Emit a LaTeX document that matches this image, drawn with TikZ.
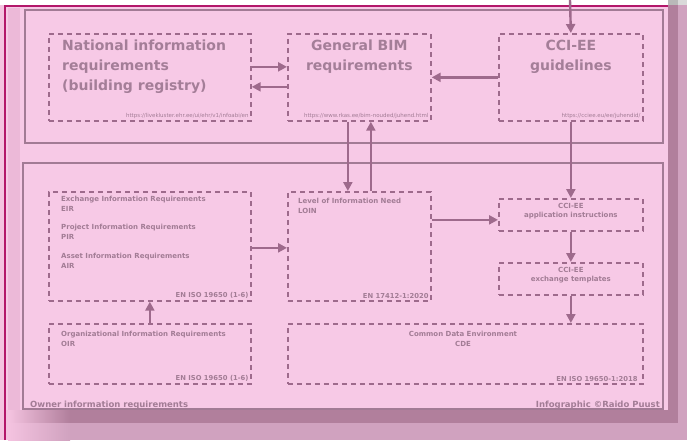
\documentclass[tikz,border=0pt]{standalone}
\usepackage{fontspec}
\setmainfont{DejaVu Sans}
\usetikzlibrary{arrows.meta}
\definecolor{bgpink}{HTML}{F7C9E6}
\definecolor{outpink}{HTML}{F4C3E0}
\definecolor{stripe}{HTML}{ECB9D8}
\definecolor{shadowA}{HTML}{B17F9C}
\definecolor{shadowB}{HTML}{D0A2BF}
\definecolor{frameM}{HTML}{B3176A}
\definecolor{linec}{HTML}{9E6A8C}
\definecolor{panelc}{HTML}{A27B95}
\definecolor{txtc}{HTML}{A47E98}
\definecolor{smallc}{HTML}{A27C95}
\tikzset{
  dbox/.style={draw=linec, line width=1.7pt, dash pattern=on 5pt off 4pt, rectangle, inner sep=0pt, anchor=north west},
  panel/.style={draw=panelc, line width=1.5pt},
  arr/.style={draw=linec, line width=2.4pt, -{Triangle[length=9pt,width=9pt]}},
  ttl/.style={text=txtc, font=\fontsize{14}{20}\selectfont\bfseries, inner sep=0pt},
  sml/.style={text=smallc, font=\fontsize{7}{9.5}\selectfont\bfseries, inner sep=0pt, align=left, anchor=north west},
  smc/.style={text=smallc, font=\fontsize{7}{9.5}\selectfont\bfseries, inner sep=0pt, align=center, anchor=north},
  url/.style={text=smallc, font=\fontsize{5.5}{6}\selectfont, inner sep=0pt, anchor=south east},
  std/.style={text=smallc, font=\fontsize{6.8}{8}\selectfont\bfseries, inner sep=0pt, anchor=south east},
  captxt/.style={text=smallc, font=\fontsize{8.5}{10}\selectfont\bfseries, inner sep=0pt}
}
\begin{document}
\begin{tikzpicture}[x=1pt,y=-1pt]
\useasboundingbox (0,0) rectangle (687,440);
% background and frame
\fill[outpink] (0,0) rectangle (687,440);
\fill[white] (0,0) rectangle (668,5);
\fill[shadowA] (668,5) rectangle (678,423);
\fill[shadowB] (678,5) rectangle (687,440);
\fill[gray!55] (668,0) rectangle (678,5);
\fill[gray!30] (678,0) rectangle (687,5);
\shade[left color=outpink, right color=shadowA] (8,410) rectangle (70,423);
\fill[shadowA] (70,410) rectangle (678,423);
\shade[left color=outpink, right color=shadowB] (8,423) rectangle (70,440);
\fill[shadowB] (70,423) rectangle (687,440);
\fill[bgpink] (6,6) rectangle (668,410);
\fill[stripe] (8,8) rectangle (20,410);
\draw[frameM, line width=2pt] (5,440) -- (5,6) -- (668,6);
% panels
\draw[panel] (25,10) rectangle (663,143);
\draw[panel] (23,163) rectangle (663,409);
% top boxes
\node[dbox, minimum width=202pt, minimum height=87pt] (nat) at (48,33) {};
\node[dbox, minimum width=143pt, minimum height=87pt] (gen) at (287,33) {};
\node[dbox, minimum width=144pt, minimum height=87pt] (cci) at (498,33) {};
\node[ttl, anchor=north west, align=left] (natt) at (62,40) {National information\\requirements\\(building registry)};
\node[ttl, anchor=north, align=center] (gent) at (gen.north |- 0,40) {General BIM\\requirements};
\node[ttl, anchor=north, align=center] (ccit) at (cci.north |- 0,40) {CCI-EE\\guidelines};
\node[url] (natu) at ([xshift=-3pt,yshift=3pt]nat.south east) {https://livekluster.ehr.ee/ui/ehr/v1/infoabi/en};
\node[url] (genu) at ([xshift=-3pt,yshift=3pt]gen.south east) {https://www.rkas.ee/bim-nouded/juhend.html};
\node[url] (cciu) at ([xshift=-3pt,yshift=3pt]cci.south east) {https://cciee.eu/ee/juhendid/};
% bottom boxes
\node[dbox, minimum width=202pt, minimum height=109pt] (eir) at (48,191) {};
\node[dbox, minimum width=202pt, minimum height=60pt] (oir) at (48,323) {};
\node[dbox, minimum width=143pt, minimum height=109pt] (loin) at (287,191) {};
\node[dbox, minimum width=144pt, minimum height=32pt] (app) at (498,198) {};
\node[dbox, minimum width=144pt, minimum height=32pt] (exch) at (498,262) {};
\node[dbox, minimum width=355pt, minimum height=60pt] (cde) at (287,323) {};
\node[sml] (eirt) at (61,196) {Exchange Information Requirements\\EIR};
\node[sml] (pirt) at (61,224) {Project Information Requirements\\PIR};
\node[sml] (airt) at (61,253) {Asset Information Requirements\\AIR};
\node[std] (eirs) at ([xshift=-3pt,yshift=3pt]eir.south east) {EN ISO 19650 (1-6)};
\node[sml] (oirt) at (61,331) {Organizational Information Requirements\\OIR};
\node[std] (oirs) at ([xshift=-3pt,yshift=3pt]oir.south east) {EN ISO 19650 (1-6)};
\node[sml] (loint) at (298,198) {Level of Information Need\\LOIN};
\node[std] (loins) at ([xshift=-3pt,yshift=3pt]loin.south east) {EN 17412-1:2020};
\node[smc] (appt) at ([yshift=-5pt]app.north) {CCI-EE\\application instructions};
\node[smc] (excht) at ([yshift=-5pt]exch.north) {CCI-EE\\exchange templates};
\node[smc] (cdet) at (463,331) {Common Data Environment\\CDE};
\node[std] (cdes) at ([xshift=-6pt,yshift=3pt]cde.south east) {EN ISO 19650-1:2018};
\node[captxt, anchor=base west] (owner) at (30,407) {Owner information requirements};
\node[captxt, anchor=base east] (credit) at (660,407) {Infographic ©Raido Puust};
% connectors
\coordinate (topin) at (570,0);
\draw[arr] (topin) -- (cci.north);
\draw[arr] ([yshift=10.5pt]nat.east) -- ([yshift=10.5pt]gen.west);
\draw[arr] ([yshift=-9.5pt]gen.west) -- ([yshift=-9.5pt]nat.east);
\draw[arr] (cci.west) -- (gen.east);
\draw[arr] ([xshift=-11.5pt]gen.south) -- ([xshift=-11.5pt]loin.north);
\draw[arr] ([xshift=11.5pt]loin.north) -- ([xshift=11.5pt]gen.south);
\draw[arr] (cci.south) -- (app.north);
\draw[arr] ([yshift=-1.5pt]eir.east) -- ([yshift=-1.5pt]loin.west);
\draw[arr] ([yshift=26.5pt]loin.east) -- ([yshift=-5pt]app.west);
\draw[arr] (oir.north) -- (eir.south);
\draw[arr] (app.south) -- (exch.north);
\draw[arr] (exch.south) -- (exch.south |- cde.north);
\end{tikzpicture}
\end{document}
